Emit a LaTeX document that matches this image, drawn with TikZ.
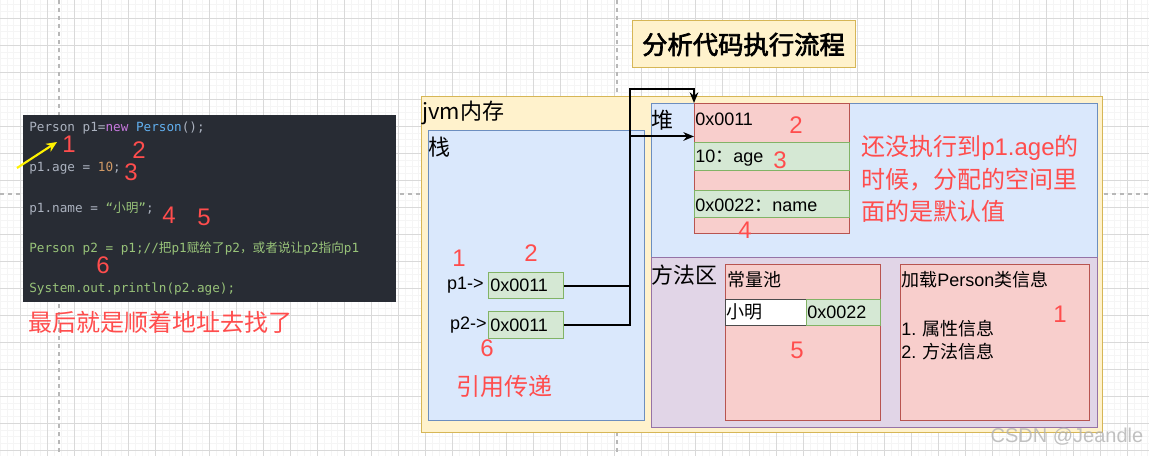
\documentclass[tikz,border=0pt]{standalone}
\usepackage{fontspec}
\setmainfont{Liberation Sans}
\newfontfamily\cjk[AutoFakeBold=2.5]{Noto Sans CJK SC}
\newfontfamily\codefont{DejaVu Sans Mono}
\usetikzlibrary{arrows.meta}

\definecolor{codebg}{HTML}{282C34}
\definecolor{codegray}{HTML}{ABB2BF}
\definecolor{kwpurple}{HTML}{C678DD}
\definecolor{clsblue}{HTML}{61AFEF}
\definecolor{numorange}{HTML}{D19A66}
\definecolor{strgreen}{HTML}{98C379}
\definecolor{redtxt}{HTML}{FF4D4D}
\definecolor{yfill}{HTML}{FFF2CC}\definecolor{yline}{HTML}{D6B656}
\definecolor{bfill}{HTML}{DAE8FC}\definecolor{bline}{HTML}{6C8EBF}
\definecolor{pfill}{HTML}{E1D5E7}\definecolor{pline}{HTML}{9673A6}
\definecolor{rfill}{HTML}{F8CECC}\definecolor{rline}{HTML}{B85450}
\definecolor{gfill}{HTML}{D5E8D4}\definecolor{gline}{HTML}{82B366}

\newcommand{\zh}[1]{{\cjk #1}}
\newcommand{\en}[1]{{\rmfamily #1}}
\newcommand{\fs}[1]{\fontsize{#1}{#1}\selectfont}

\tikzset{
  wh/.style 2 args={minimum width=#1*0.75pt, minimum height=#2*0.75pt},
  area/.style={draw, line width=0.75pt, anchor=north west, inner sep=0pt},
  redbox/.style={area, fill=rfill, draw=rline},
  greenbox/.style={area, fill=gfill, draw=gline},
  txt/.style={anchor=west, inner sep=0pt, font=\fs{13.5}},
  head/.style={anchor=west, inner sep=0pt, font=\cjk\fs{16.5}},
  num/.style={inner sep=0pt, text=redtxt, font=\fs{18}},
  note/.style={inner sep=0pt, text=redtxt, font=\cjk\fs{18}},
  codeline/.style={anchor=west, inner sep=0pt, text=codegray, font=\codefont\fs{9.5}},
  link/.style={draw, line width=1.5pt, -{Stealth[length=8pt, width=6.5pt]}},
  minorgrid/.style={black!4, line width=0.75pt},
  majorgrid/.style={black!15, line width=0.75pt},
  pagebreak/.style={black!28, line width=0.9pt, dash pattern=on 3pt off 3pt}
}

\begin{document}
\begin{tikzpicture}[x=0.75pt, y=-0.75pt]
  \useasboundingbox (0,0) rectangle (1149,456);
  % grid
  \fill[white] (0,0) rectangle (1149,456);
  \foreach \i in {0,...,170} \draw[minorgrid] (0.45+6.75*\i,0) -- ++(0,456);
  \foreach \j in {0,...,67} \draw[minorgrid] (0,4.8+6.75*\j) -- ++(1149,0);
  \foreach \i in {0,...,41} \draw[majorgrid] (20.7+27*\i,0) -- ++(0,456);
  \foreach \j in {0,...,16} \draw[majorgrid] (0,18.3+27*\j) -- ++(1149,0);
  \draw[pagebreak] (59,0) -- (59,456) (617,0) -- (617,456) (0,194) -- (1149,194);

  % code
  \node[area, draw=none, fill=codebg, wh={373}{186}] (code) at (22,115) {};
  \node[codeline] (c1) at (29,128) {Person p1=\textcolor{kwpurple}{new} \textcolor{clsblue}{Person}();};
  \node[codeline] (c2) at (29,168) {p1.age = \textcolor{numorange}{10};};
  \node[codeline] (c3) at (29,209) {p1.name = \textcolor{strgreen}{“\zh{小明}”};};
  \node[codeline, text=strgreen] (c4) at (29,248) {Person p2 = p1;//\zh{把}p1\zh{赋给了}p2\zh{，或者说让}p2\zh{指向}p1};
  \node[codeline, text=strgreen] (c5) at (29,289) {System.out.println(p2.age);};
  \coordinate (ptr) at (17,168);
  \coordinate (ptrtip) at (57,142);
  \draw[yellow, line width=1.6pt, -{Stealth[length=8pt, width=7pt]}] (ptr) -- (ptrtip);
  \node[num] (n1) at (69,144) {1};
  \node[num] (n2) at (139,150) {2};
  \node[num] (n3) at (131,172) {3};
  \node[num] (n4) at (169,215) {4};
  \node[num] (n5) at (204,217) {5};
  \node[num] (n6) at (103,265) {6};
  \node[note, anchor=west] (follow) at (28,322) {最后就是顺着地址去找了};

  % title
  \node[draw=yline, fill=yfill, line width=0.75pt, wh={223}{47}, font=\cjk\bfseries\fs{19}] (title) at (743.5,44.5) {分析代码执行流程};

  % jvm
  \node[area, fill=yfill, draw=yline, wh={681}{336}] (jvm) at (421,96) {};
  \node[head] (jvmlbl) at (422,113) {jvm\zh{内存}};
  \node[area, fill=bfill, draw=bline, wh={216}{290}] (stack) at (428,130) {};
  \node[head] (stacklbl) at (428,147) {栈};
  \node[area, fill=bfill, draw=bline, wh={446}{154}] (heap) at (651,103) {};
  \node[head] (heaplbl) at (651,120) {堆};
  \node[area, fill=pfill, draw=pline, wh={446}{170}] (method) at (651,257) {};
  \node[head] (methodlbl) at (651,275) {方法区};

  % stack frames
  \node[num] (k1) at (459,258) {1};
  \node[num] (k2) at (531,253) {2};
  \node[greenbox, wh={75}{26}] (s1) at (488,272) {};
  \node[greenbox, wh={75}{27}] (s2) at (488,311) {};
  \node[txt, anchor=east] (p1lbl) at (484,285) {p1->};
  \node[txt, anchor=east] (p2lbl) at (487,325) {p2->};
  \node[txt] (s1txt) at (490,285) {0x0011};
  \node[txt] (s2txt) at (490,325) {0x0011};
  \node[num] (k6) at (487,348) {6};
  \node[note, anchor=west] (byref) at (456,386) {引用传递};

  % heap object
  \node[redbox, wh={155}{39}] (o1) at (694,103) {};
  \node[redbox, wh={155}{20}] (o3) at (694,170) {};
  \node[redbox, wh={155}{16}] (o5) at (694,217) {};
  \node[greenbox, wh={155}{28}] (o2) at (694,142) {};
  \node[greenbox, wh={155}{27}] (o4) at (694,190) {};
  \node[txt] (o1txt) at (695,119) {0x0011};
  \node[txt] (o2txt) at (695,158) {10\zh{：}age};
  \node[txt] (o4txt) at (695,205) {0x0022\zh{：}name};
  \node[num] (h2) at (796,125) {2};
  \node[num] (h3) at (780,160) {3};
  \node[num] (h4) at (745,230) {4};
  \node[note, anchor=west, align=left, font=\cjk\fontsize{18}{24.4}\selectfont] (why) at (861,179)
    {还没执行到\en{p1.age}的\\时候，分配的空间里\\面的是默认值};

  % references
  \draw[link] (s1.east) -- ++(66,0) |- ([yshift=-10.1pt]o1.west);
  \draw[link] (s2.east) -- ++(66,0) |- ([yshift=10.5pt]o1.north west) -- (o1.north west);

  % method area
  \node[redbox, wh={155}{156}] (pool) at (725,264) {};
  \node[txt, font=\cjk\fs{13.5}] (poollbl) at (727,280) {常量池};
  \node[area, fill=white, draw=black!70, wh={81}{26}] (strval) at (725,299) {};
  \node[greenbox, wh={74}{26}] (strref) at (806,299) {};
  \node[txt, font=\cjk\fs{13.5}] (strtxt) at (726,312) {小明};
  \node[txt] (reftxt) at (807,312) {0x0022};
  \node[num] (m5) at (797,350) {5};
  \node[redbox, wh={189}{156}] (cls) at (900,264) {};
  \node[txt] (clslbl) at (901,280) {\zh{加载}Person\zh{类信息}};
  \node[num] (m1) at (1060,314) {1};
  \node[txt] (attr) at (901,329) {1. \zh{属性信息}};
  \node[txt] (meth) at (901,352) {2. \zh{方法信息}};

  % watermark
  \node[inner sep=0pt, text=black!30, opacity=0.8, font=\fs{15}] (mark) at (1067,437) {CSDN @Jeandle};
\end{tikzpicture}
\end{document}
